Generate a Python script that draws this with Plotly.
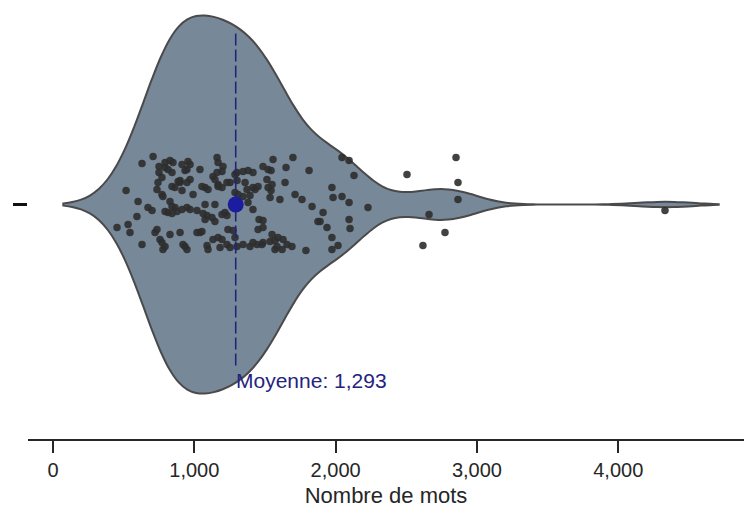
import plotly.graph_objects as go

# Word counts per document, with the vertical jitter offset used to spread each dot
words = [
    453, 517, 531, 545, 594, 602, 630, 630, 672, 701, 708, 722, 736, 736, 743, 750, 750,
    757, 771, 778, 793, 771, 771, 778, 793, 828, 849, 793, 814, 842, 885, 899, 842, 863,
    828, 842, 863, 878, 913, 793, 814, 842, 828, 899, 913, 955, 970, 948, 934, 970, 899,
    948, 913, 991, 948, 970, 1019, 934, 948, 1019, 920,
    1040, 1054, 1076, 1097, 1062, 1076, 1076, 1090, 1125, 1146, 1146, 1161, 1168, 1203,
    1196, 1161, 1132, 1146, 1168, 1168, 1196, 1231, 1196, 1217, 1231, 1132, 1168, 1090,
    1097, 1054, 1040, 1196, 1231, 1253, 1182, 1238, 1274, 1288, 1253, 1302, 1288, 1302,
    1288, 1309, 1302,
    1345, 1359, 1345, 1373, 1380, 1415, 1345, 1394, 1380, 1415, 1430, 1394, 1415, 1451,
    1451, 1458, 1486, 1479, 1444, 1415, 1486, 1486, 1486, 1522, 1543, 1557, 1514, 1550,
    1543, 1536, 1522, 1536, 1550, 1571, 1592, 1628, 1571, 1585, 1621, 1656, 1606, 1642,
    1649,
    1698, 1812, 1713, 1762, 1833, 1875, 1691, 1790, 1974, 1982, 2045, 2095, 2045, 2095,
    2130, 2229, 1911, 1890, 1939, 1974, 2095, 2102, 1974, 2017,
    2505, 2852, 2866, 2866, 2661, 2774, 2618, 4331,
]
jitter = [
    -23, 14, -20, -28, -12, 3, 41, -40, -3, -6, 48, -28, -25, 15, 22, 38, 32,
    -35, -38, -45, -42, 27, 10, 8, 42, 44, 42, 37, 35, 32, 23, 22, 18, 17,
    3, -2, -3, -7, -5, -7, -8, -9, -30, -28, 40, 43, 40, 35, 34, 25, 24,
    22, 14, 10, -3, -5, -6, -42, -45, -28, -40,
    35, 18, 17, 15, -9, -15, 0, -11, -13, -17, 0, 47, 42, 38,
    33, 32, 28, 25, 20, 18, 17, 22, -10, -8, -11, -35, -33, -41,
    -45, -27, -28, -35, -40, -43, -43, -25, -26, -33, 22, 24, 30, 32,
    12, 10, -42,
    33, 22, 8, 15, 2, -5, -40, -42, 34, 32, 15, 9, 17, 18,
    -25, -15, -16, -40, -40, -38, -23, -38, 38, 35, 34, 45, 25, 20,
    14, 7, 17, -37, -30, -36, -33, -35, -45, -42, -45, -40, 5, 22,
    37,
    47, 34, 10, 5, -2, -17, -42, -46, 17, 7, 8, 2, 47, 44,
    29, -3, -8, -17, -23, -33, -15, -24, -45, -41,
    30, 47, 22, 5, -10, -28, -41, -6,
]

mean_words = 1293
mean_label = f"Moyenne: {mean_words:,}"
x_ticks = [0, 1000, 2000, 3000, 4000]

FONT = "Liberation Sans, Arial, sans-serif"
NAVY = "#24247e"

fig = go.Figure()

fig.add_trace(go.Violin(
    x=words,
    y0=0,
    orientation="h",
    width=378,
    scalemode="width",
    spanmode="soft",
    bandwidth=190,
    points=False,
    box_visible=False,
    meanline_visible=False,
    fillcolor="#778899",
    line=dict(color="#4a4a4a", width=2),
    opacity=1,
    showlegend=False,
    hoverinfo="skip",
))

fig.add_trace(go.Scatter(
    x=words,
    y=jitter,
    mode="markers",
    marker=dict(color="#2e2e2e", size=7.5, opacity=0.9),
    showlegend=False,
    hoverinfo="skip",
))

# Dashed mean line with its label underneath
fig.add_trace(go.Scatter(
    x=[mean_words, mean_words],
    y=[171, -164],
    mode="lines",
    line=dict(color=NAVY, width=1.6, dash="12px,4px"),
    showlegend=False,
    hoverinfo="skip",
))

fig.add_trace(go.Scatter(
    x=[mean_words],
    y=[0],
    mode="markers",
    marker=dict(color="#1c1c9e", size=16),
    showlegend=False,
    hoverinfo="skip",
))

fig.add_annotation(
    x=mean_words, y=-176, xref="x", yref="y",
    text=mean_label, showarrow=False,
    xanchor="left", yanchor="middle", xshift=-2,
    font=dict(family=FONT, size=21, color=NAVY),
)

fig.update_layout(
    width=744,
    height=512,
    margin=dict(l=28, r=0, t=0, b=73),
    paper_bgcolor="white",
    plot_bgcolor="white",
    font=dict(family=FONT, size=20, color="#262626"),
    xaxis=dict(
        range=[-177, 4890],
        tickvals=x_ticks,
        tickformat=",",
        ticks="outside",
        ticklen=12,
        tickwidth=2,
        tickcolor="#262626",
        showline=True,
        linecolor="#262626",
        linewidth=2,
        showgrid=False,
        zeroline=False,
        title=dict(text="Nombre de mots", font=dict(size=22), standoff=8),
        tickfont=dict(size=20),
    ),
    yaxis=dict(
        type="linear",
        range=[-234.5, 204.5],
        tickvals=[0],
        ticktext=[""],
        ticks="outside",
        ticklen=14,
        tickwidth=3,
        tickcolor="#111111",
        showline=False,
        showgrid=False,
        zeroline=False,
        fixedrange=True,
    ),
)

fig.write_html("out.html")
